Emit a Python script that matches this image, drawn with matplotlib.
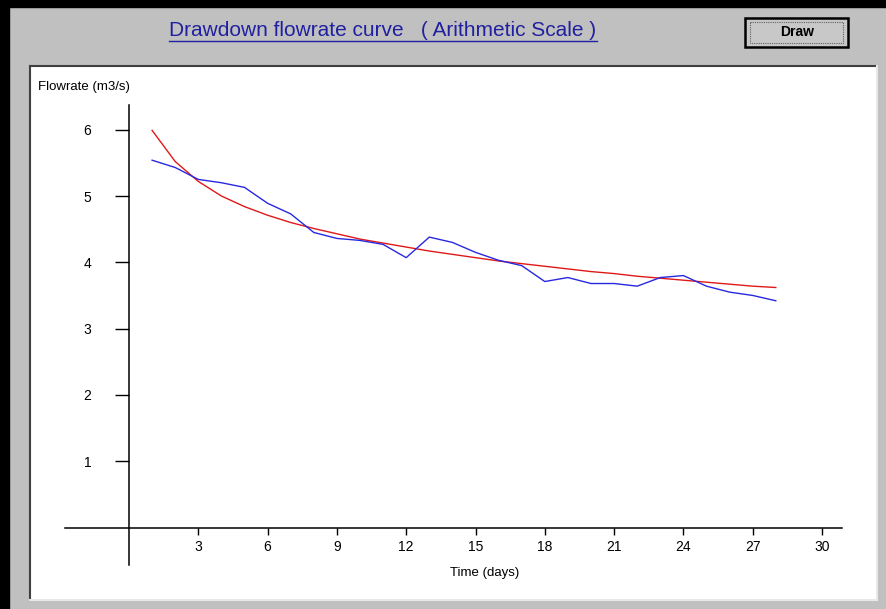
import numpy as np
import matplotlib
matplotlib.use("Agg")
import matplotlib.pyplot as plt
from matplotlib.patches import Rectangle
from matplotlib.lines import Line2D

plt.rcParams['font.family'] = ['Liberation Sans Narrow', 'Liberation Sans', 'DejaVu Sans']

# data
days = [1, 2, 3, 4, 5, 6, 7, 8, 9, 10, 11, 12, 13, 14,
        15, 16, 17, 18, 19, 20, 21, 22, 23, 24, 25, 26, 27, 28]
flow_measured = [5.54, 5.43, 5.25, 5.20, 5.13, 4.89, 4.73, 4.45, 4.36, 4.33,
                 4.27, 4.07, 4.38, 4.30, 4.15, 4.03, 3.95, 3.71, 3.77, 3.68,
                 3.68, 3.64, 3.77, 3.80, 3.64, 3.55, 3.50, 3.42]
flow_fitted = [5.99, 5.52, 5.22, 5.00, 4.84, 4.71, 4.60, 4.51, 4.43, 4.35,
               4.29, 4.23, 4.17, 4.12, 4.07, 4.02, 3.98, 3.94, 3.90, 3.86,
               3.83, 3.79, 3.76, 3.73, 3.70, 3.67, 3.64, 3.62]
x_ticks = [3, 6, 9, 12, 15, 18, 21, 24, 27, 30]
y_ticks = [1, 2, 3, 4, 5, 6]

W, H = 887, 609
fig = plt.figure(figsize=(W / 100, H / 100), dpi=100, facecolor='#c0c0c0')

# window frame drawn in pixel coords
bg = fig.add_axes([0, 0, 1, 1])
bg.set_xlim(0, W)
bg.set_ylim(H, 0)
bg.axis('off')
bg.add_patch(Rectangle((0, 0), W, 7, color='black'))
bg.add_patch(Rectangle((0, 0), 9, H, color='black'))
bg.add_patch(Rectangle((30, 66), 847, 534, facecolor='white', edgecolor='none'))
bg.plot([30, 877], [66, 66], color='#404040', lw=1.5)
bg.plot([30, 30], [66, 600], color='#404040', lw=1.5)
bg.plot([30, 877], [600, 600], color='#e8e8e8', lw=1.5)
bg.plot([877, 877], [66, 600], color='#e8e8e8', lw=1.5)

# Draw button
bg.add_patch(Rectangle((745, 18), 103, 29, facecolor='#c8c8c8', edgecolor='black', lw=1.8))
bg.add_patch(Rectangle((750, 22), 93, 21, facecolor='none', edgecolor='#606060',
                       lw=0.8, linestyle=(0, (1, 1))))
bg.text(797, 32.5, 'Draw', ha='center', va='center', fontsize=10, fontweight='bold',
        color='black')

title = bg.text(383, 30, 'Drawdown flowrate curve   ( Arithmetic Scale )',
                ha='center', va='center', fontsize=15, color='#2020a0')

# plot area, limits chosen so the axes fill the white panel
ax = fig.add_axes([30 / W, 1 - 600 / H, 847 / W, 534 / H])
ax.set_facecolor('none')
px_day = 23.1
px_unit = 66.3
ax.set_xlim((30 - 129) / px_day, (877 - 129) / px_day)
ax.set_ylim((527.5 - 600) / px_unit, (527.5 - 66) / px_unit)

ax.plot(days, flow_fitted, color='#e01818', lw=1.0)
ax.plot(days, flow_measured, color='#2828e0', lw=1.0)

for s in ['top', 'right']:
    ax.spines[s].set_visible(False)
ax.spines['left'].set_position(('data', 0))
ax.spines['bottom'].set_position(('data', 0))
ax.spines['bottom'].set_bounds((65 - 129) / px_day, (842 - 129) / px_day)
ax.spines['left'].set_bounds((527.5 - 565) / px_unit, (527.5 - 105) / px_unit)
ax.spines['left'].set_linewidth(1.1)
ax.spines['bottom'].set_linewidth(1.1)

ax.set_xticks(x_ticks)
ax.set_yticks(y_ticks)
ax.tick_params(axis='x', direction='out', length=5, width=1, pad=4, labelsize=10)
ax.tick_params(axis='y', direction='out', length=10, width=1, pad=17, labelsize=10)

fig.text(38 / W, 1 - 87 / H, 'Flowrate (m3/s)', ha='left', va='center', fontsize=9.5)
fig.text(485 / W, 1 - 573 / H, 'Time (days)', ha='center', va='center', fontsize=9.5)

# underline the title
fig.canvas.draw()
bb = title.get_window_extent().transformed(fig.transFigure.inverted())
fig.add_artist(Line2D([bb.x0, bb.x1], [bb.y0 - 1.0 / H] * 2, transform=fig.transFigure,
                      color='#2020a0', lw=1.0))

fig.savefig('out.png', dpi=100, facecolor=fig.get_facecolor())
